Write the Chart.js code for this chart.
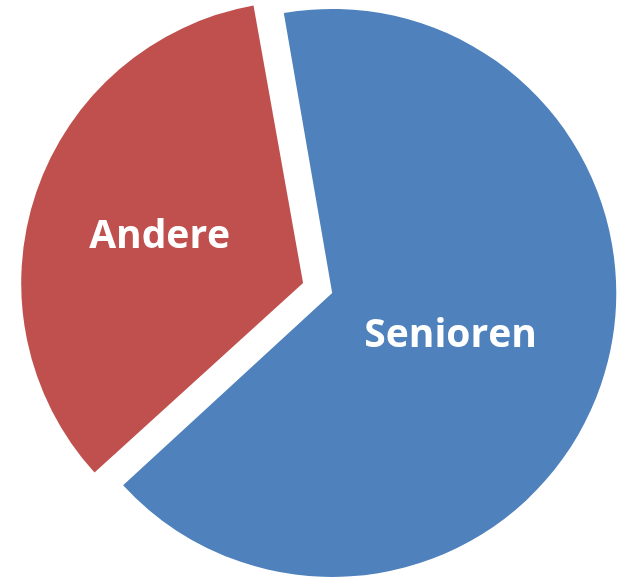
<!DOCTYPE html>
<html>
<head>
<meta charset="utf-8">
<script src="https://cdn.jsdelivr.net/npm/chart.js@4/dist/chart.umd.min.js"></script>
<style>
  html, body { margin: 0; padding: 0; background: #ffffff; }
  #wrap { width: 621px; height: 578px; position: relative; }
</style>
</head>
<body>
<div id="wrap"><canvas id="c"></canvas></div>
<script>
const categories = ['Senioren', 'Andere'];
const values = [66, 34];
const sliceColors = ['#4F81BD', '#C0504D'];

const labelPlugin = {
  id: 'sliceLabels',
  afterDatasetsDraw(chart, args, opts) {
    const ctx = chart.ctx;
    const meta = chart.getDatasetMeta(0);
    ctx.save();
    ctx.font = opts.font;
    ctx.fillStyle = opts.color;
    ctx.textAlign = 'center';
    ctx.textBaseline = 'alphabetic';
    meta.data.forEach((arc, i) => {
      const p = arc.getProps(['x', 'y', 'startAngle', 'endAngle', 'outerRadius']);
      const half = (p.startAngle + p.endAngle) / 2;
      const t = (arc.options.offset || 0) / 4;
      const r = t + p.outerRadius * opts.radial[i];
      const x = p.x + Math.cos(half) * r;
      const y = p.y + Math.sin(half) * r;
      ctx.fillText(chart.data.labels[i], x, y + opts.capHeight / 2);
    });
    ctx.restore();
  }
};

new Chart(document.getElementById('c'), {
  type: 'pie',
  data: {
    labels: categories,
    datasets: [{
      data: values,
      backgroundColor: sliceColors,
      borderWidth: 0,
      offset: [24, 99],
      hoverOffset: 0
    }]
  },
  options: {
    responsive: true,
    maintainAspectRatio: false,
    animation: false,
    events: [],
    rotation: -10,
    radius: 278,
    layout: { padding: { left: 32, right: 0, top: 4, bottom: 0 } },
    plugins: {
      legend: { display: false },
      tooltip: { enabled: false },
      sliceLabels: {
        font: 'bold 39px "Open Sans"',
        color: '#ffffff',
        capHeight: 28,
        radial: [0.45, 0.545]
      }
    }
  },
  plugins: [labelPlugin]
});
</script>
</body>
</html>
